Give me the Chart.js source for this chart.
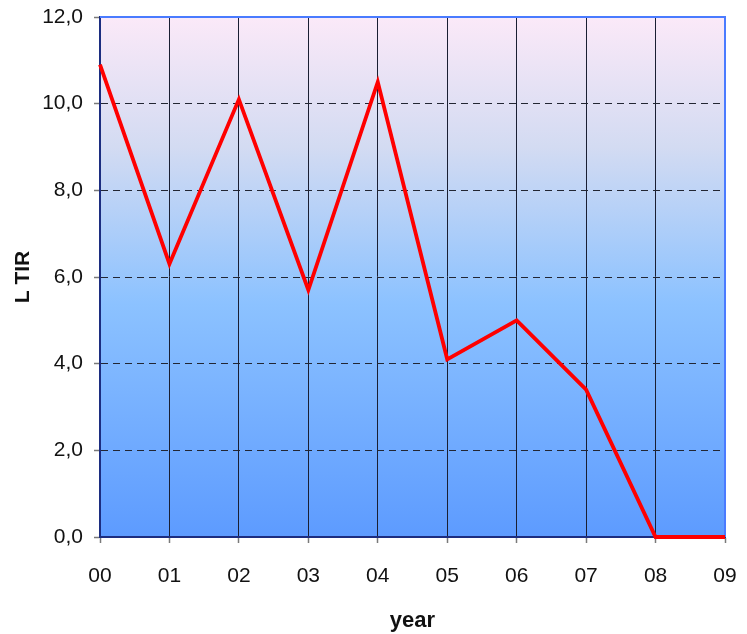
<!DOCTYPE html>
<html>
<head>
<meta charset="utf-8">
<script src="https://cdn.jsdelivr.net/npm/chart.js@4/dist/chart.umd.min.js"></script>
<style>
  html, body { margin: 0; padding: 0; background: #ffffff; }
  #wrap { width: 747px; height: 634px; }
</style>
</head>
<body>
<div id="wrap"><canvas id="c" width="747" height="634"></canvas></div>
<script>
// Years (two-digit) and LTIR values
const years = ['00', '01', '02', '03', '04', '05', '06', '07', '08', '09'];
const ltir = [10.9, 6.3, 10.1, 5.7, 10.5, 4.1, 5.0, 3.4, 0.0, 0.0];
const yTickValues = [0, 2, 4, 6, 8, 10, 12];
const yTickLabels = ['0,0', '2,0', '4,0', '6,0', '8,0', '10,0', '12,0'];

const FONT = '"Liberation Sans", Arial, sans-serif';

// Plot-area background: pink at the top fading to blue at the bottom,
// plus the blue frame along the top and right edges.
const plotFrame = {
  id: 'plotFrame',
  beforeDraw(chart) {
    const { ctx, chartArea: a } = chart;
    const g = ctx.createLinearGradient(0, a.top, 0, a.bottom);
    g.addColorStop(0, '#fbe9f8');
    g.addColorStop(0.25, '#d3dbf2');
    g.addColorStop(0.55, '#8cc2ff');
    g.addColorStop(1, '#5d9bff');
    ctx.save();
    ctx.fillStyle = g;
    ctx.fillRect(a.left, a.top, a.right - a.left, a.bottom - a.top);
    ctx.restore();
  },
  beforeDatasetsDraw(chart) {
    const { ctx, chartArea: a } = chart;
    ctx.save();
    ctx.strokeStyle = '#4a7bff';
    ctx.lineWidth = 2;
    ctx.beginPath();
    ctx.moveTo(a.left, a.top);
    ctx.lineTo(a.right, a.top);
    ctx.lineTo(a.right, a.bottom);
    ctx.stroke();
    ctx.restore();
  }
};

new Chart(document.getElementById('c'), {
  type: 'line',
  data: {
    labels: years,
    datasets: [{
      data: ltir,
      borderColor: '#ff0000',
      borderWidth: 3.8,
      pointRadius: 0,
      tension: 0,
      clip: false
    }]
  },
  options: {
    responsive: false,
    animation: false,
    devicePixelRatio: 1,
    layout: { padding: { top: 17, right: 22, left: 0, bottom: 0 } },
    plugins: { legend: { display: false }, tooltip: { enabled: false } },
    scales: {
      x: {
        offset: false,
        afterFit(s) { s.height = 97; s.paddingLeft = 0; s.paddingRight = 0; },
        grid: {
          color: '#1a1f33',
          lineWidth: 1,
          tickLength: 6,
          tickColor: '#7a7a7a',
          tickWidth: 1.5
        },
        border: { display: true, color: '#1c2d80', width: 2 },
        ticks: {
          color: '#111111',
          padding: 21,
          font: { family: FONT, size: 21 }
        },
        title: {
          display: true,
          text: 'year',
          color: '#111111',
          padding: { top: 0, bottom: 0 },
          font: { family: FONT, size: 22, weight: 'bold' }
        }
      },
      y: {
        min: 0,
        max: 12,
        afterFit(s) { s.width = 100; s.paddingTop = 0; s.paddingBottom = 0; },
        afterBuildTicks(s) { s.ticks = yTickValues.map(v => ({ value: v })); },
        grid: {
          color(ctx) { return ctx.tick && ctx.tick.value === 0 ? 'rgba(0,0,0,0)' : '#222633'; },
          lineWidth: 1,
          tickLength: 6,
          tickColor: '#7a7a7a',
          tickWidth: 1.5
        },
        border: { display: true, color: '#1c2d80', width: 2, dash: [7, 5] },
        ticks: {
          color: '#111111',
          padding: 11,
          font: { family: FONT, size: 21 },
          callback(value) {
            const i = yTickValues.indexOf(value);
            return i >= 0 ? yTickLabels[i] : '';
          }
        },
        title: {
          display: true,
          text: 'L TIR',
          color: '#111111',
          padding: { top: 11, bottom: 0 },
          font: { family: FONT, size: 21, weight: 'bold' }
        }
      }
    }
  },
  plugins: [plotFrame]
});
</script>
</body>
</html>
